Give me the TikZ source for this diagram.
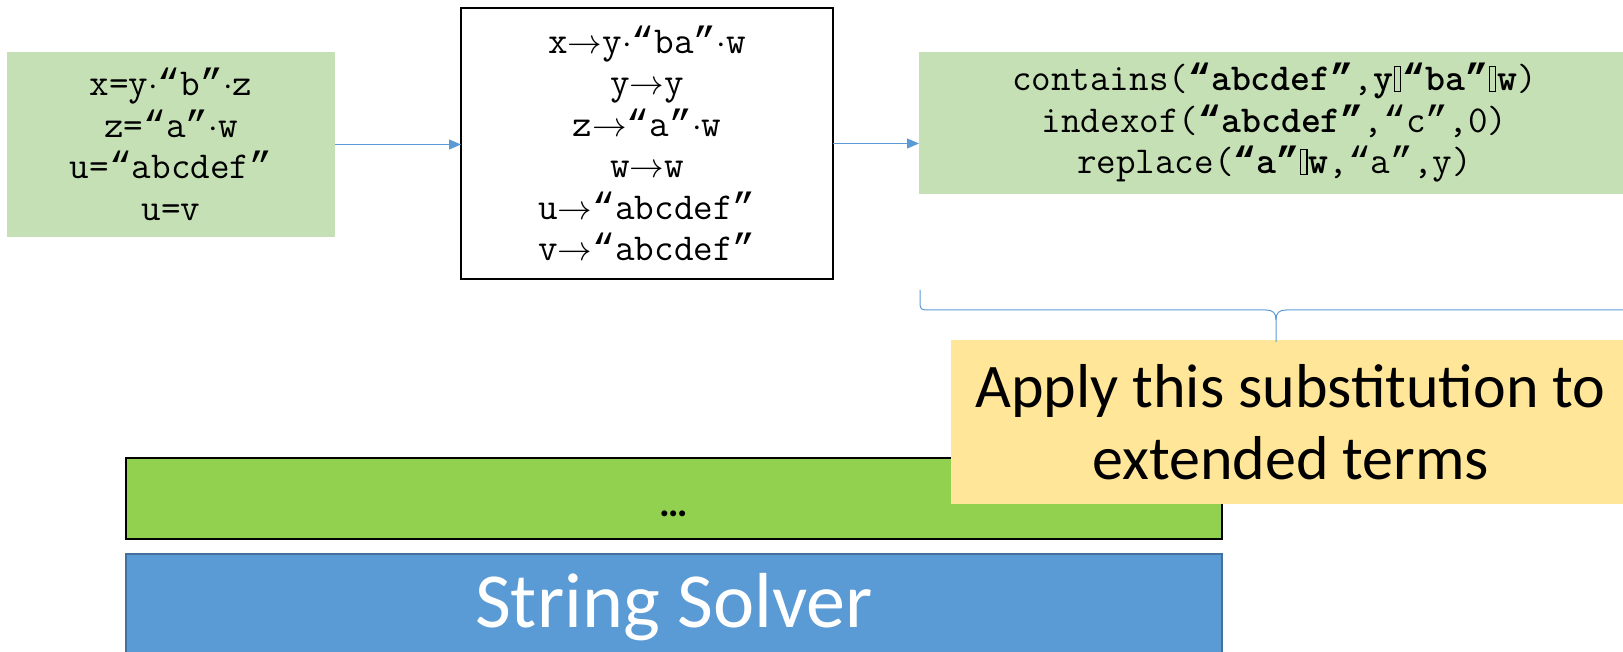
\documentclass[tikz,border=0pt]{standalone}
\usepackage{fontspec}
\usepackage{graphicx}
\usetikzlibrary{arrows.meta}
\newfontfamily\calibri{Carlito}
\newfontfamily\qfont{Liberation Mono}
\newcommand{\rarr}{$\rightarrow$}
\newcommand{\dt}{${\cdot}$}
\newcommand{\qo}{{\qfont “}}
\newcommand{\qc}{{\qfont ”}}
\newcommand{\nglyph}{\kern0.5pt\begingroup\setlength{\fboxsep}{0pt}\setlength{\fboxrule}{0.6pt}\fbox{\rule{0pt}{0.62em}\rule{2.5pt}{0pt}}\endgroup\kern0.5pt}
\definecolor{lgreen}{HTML}{C5E0B4}
\definecolor{bgreen}{HTML}{92D050}
\definecolor{oblue}{HTML}{5B9BD5}
\definecolor{dblue}{HTML}{41719C}
\definecolor{lyellow}{HTML}{FFE699}
\tikzset{
  monotext/.style={font=\ttfamily\fontsize{19}{20.75}\selectfont, align=center},
  box/.style={inner sep=0pt, outer sep=0pt},
  flow/.style={draw=oblue, line width=0.6pt, -{Triangle[length=6pt,width=5pt]}},
  bracestyle/.style={draw=oblue, line width=0.5pt}
}
\begin{document}
\begin{tikzpicture}[x=0.5pt,y=-0.5pt]
\useasboundingbox (0,0) rectangle (1623,652);
% left equations
\node[box, fill=lgreen, minimum width=164pt, minimum height=92.5pt, monotext] (eqs) at (171,144.5)
  {x=y\dt\qo b\qc\dt z\\z=\qo a\qc\dt w\\u=\qo abcdef\qc\\u=v};
% middle substitution
\node[box, draw=black, line width=0.75pt, minimum width=186pt, minimum height=135.5pt, monotext] (subst) at (647,143.5)
  {x\rarr y\dt\qo ba\qc\dt w\\y\rarr y\\z\rarr\qo a\qc\dt w\\w\rarr w\\u\rarr\qo abcdef\qc\\v\rarr\qo abcdef\qc};
% right extended terms
\node[box, fill=lgreen, minimum width=355.5pt, minimum height=71pt, monotext] (ext) at (1274.5,123)
  {contains(\textbf{\qo abcdef\qc},\textbf{y\nglyph\qo ba\qc\nglyph w})\\indexof(\textbf{\qo abcdef\qc},\qo c\qc,0)\\replace(\textbf{\qo a\qc\nglyph w},\qo a\qc,y)};
% arrows
\draw[flow] (eqs.east) -- (subst.west |- eqs.east);
\draw[flow] (subst.east) -- (ext.west |- subst.east);
% bottom bars
\node[box, fill=bgreen, draw=black, line width=0.6pt, minimum width=548pt, minimum height=40.5pt,
  font=\calibri\bfseries\fontsize{20}{24}\selectfont] (dots) at (674,498.5) {\vphantom{Ag}\raisebox{-5pt}{…}};
\node[box, fill=oblue, draw=dblue, line width=0.8pt, minimum width=548pt, minimum height=53pt,
  text=white, font=\calibri\fontsize{39}{44}\selectfont] (solver) at (674,607) {String Solver};
% yellow note
\node[box, fill=lyellow, minimum width=339.5pt, minimum height=82pt, align=center,
  font=\calibri\fontsize{31}{36}\selectfont] (note) at (1290.5,422) {Apply this substitution to\\extended terms};
% brace
\draw[bracestyle] (920,290) -- (920,304) .. controls (920,309) and (922,310) .. (928,310)
  -- (1266,310) .. controls (1273,310) and (1276,313) .. (1276,320) -- (1276,342);
\draw[bracestyle] (1276,320) .. controls (1276,313) and (1279,310) .. (1286,310)
  -- (1624,310) .. controls (1630,310) and (1632,309) .. (1632,304) -- (1632,290);
\end{tikzpicture}
\end{document}
